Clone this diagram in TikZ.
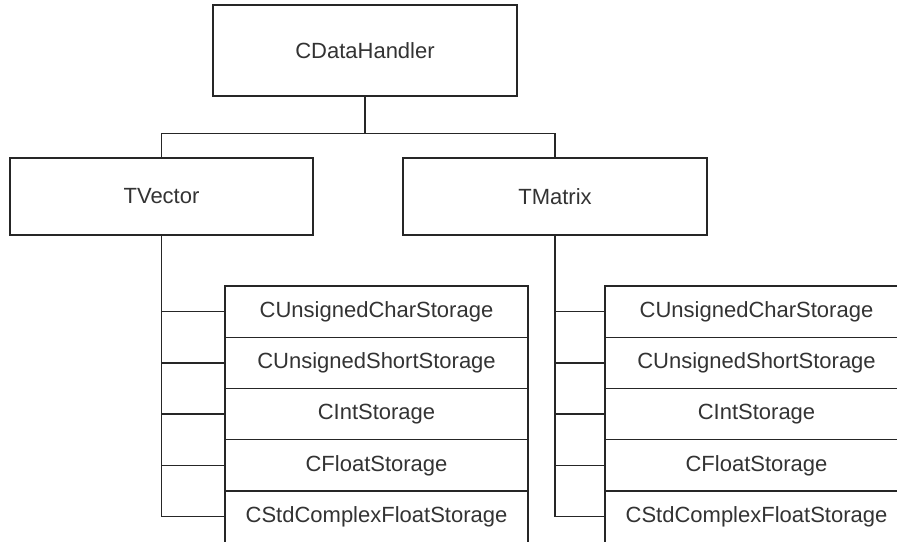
\documentclass[tikz,border=0pt]{standalone}
\usepackage{fontspec}
\setmainfont{Liberation Sans}
\usetikzlibrary{positioning}

\tikzset{
  classbox/.style={draw=black!85, line width=1.3pt, fill=white, text=black!80,
    inner sep=0pt, font=\fontsize{22}{25}\selectfont},
  storebox/.style={classbox, minimum width=303, minimum height=51.25},
  link/.style={draw=black!85, line width=1.3pt}
}

\begin{document}
\begin{tikzpicture}[x=1pt, y=-1pt]
        \useasboundingbox (0,0) rectangle (897,541);
        \clip (0,0) rectangle (897,541);

        % Base class
        \node[classbox, minimum width=304, minimum height=91] (handler) at (365,50.5) {CDataHandler};

        % Templates
        \node[classbox, minimum width=303, minimum height=77] (tvector) at (161.5,196.5) {TVector};
        \node[classbox, minimum width=304, minimum height=77] (tmatrix) at (555,196.5) {TMatrix};

        % Connections to base
        \draw[link] (handler.south) -- ++(0,37) coordinate (bus);
        \draw[link] (tvector.north) |- (bus) -| (tmatrix.north);

        % Storage classes
        \foreach \name [count=\i] in {CUnsignedCharStorage, CUnsignedShortStorage,
                                     CIntStorage, CFloatStorage, CStdComplexFloatStorage} {
            \node[storebox] (vstore\i) at (376.5,260.375+51.25*\i) {\name};
            \node[storebox] (mstore\i) at (756.5,260.375+51.25*\i) {\name};
        }

        % Connections to storage
        \draw[link] (tvector.south) |- (vstore5.west);
        \draw[link] (tmatrix.south) |- (mstore5.west);
        \foreach \i in {1,...,4} {
            \draw[link] (vstore\i.west) -- (tvector.south |- vstore\i.west);
            \draw[link] (mstore\i.west) -- (tmatrix.south |- mstore\i.west);
        }
    \end{tikzpicture}
\end{document}
